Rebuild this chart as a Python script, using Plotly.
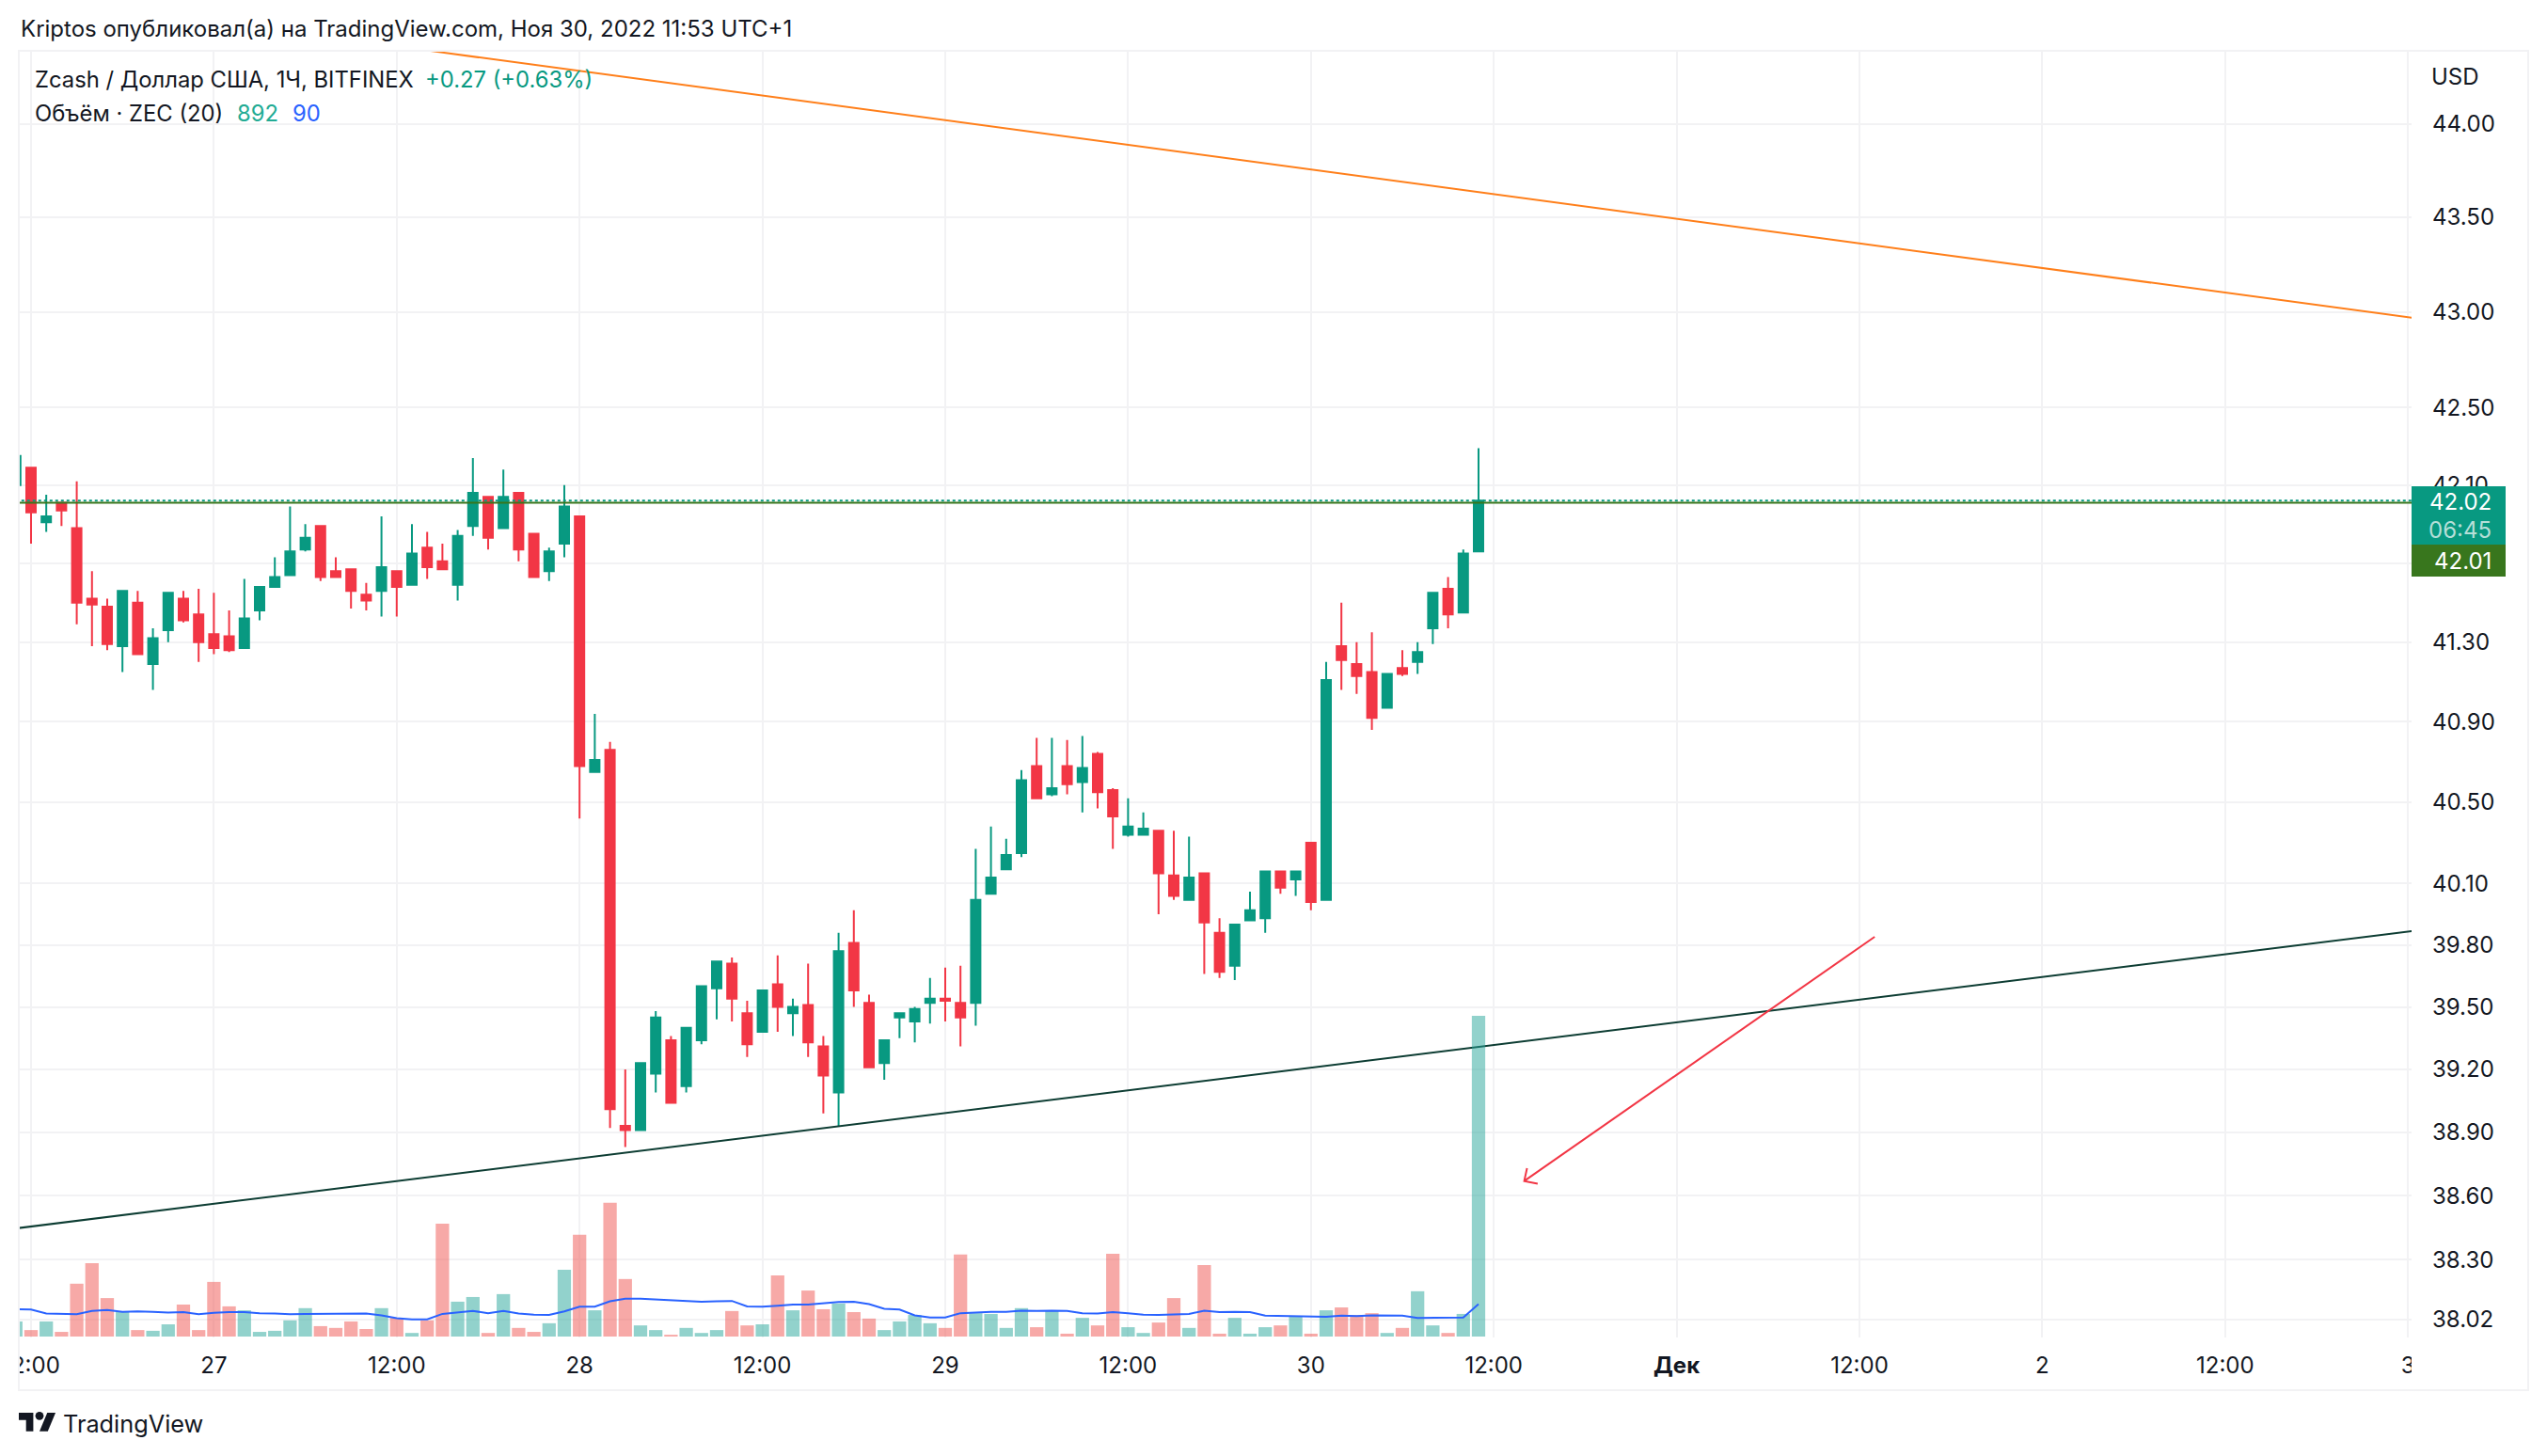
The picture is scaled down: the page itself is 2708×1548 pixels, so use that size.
import math
import pandas as pd
import plotly.graph_objects as go

# hourly bars, ZEC/USD Bitfinex, first bar 26 Nov 11:00
times = pd.date_range("2022-11-26 11:00", periods=97, freq="h")

opens = [42.10, 42.19, 41.91, 42.01, 41.88, 41.52, 41.48, 41.28, 41.50, 41.19,
         41.36, 41.52, 41.44, 41.34, 41.33, 41.27, 41.46, 41.58, 41.64, 41.77,
         41.89, 41.66, 41.67, 41.54, 41.56, 41.66, 41.59, 41.78, 41.71, 41.59,
         41.89, 42.04, 41.88, 42.06, 41.85, 41.66, 41.80, 41.94, 40.65, 40.76,
         38.93, 38.91, 39.18, 39.34, 39.12, 39.34, 39.59, 39.71, 39.47, 39.38,
         39.61, 39.47, 39.51, 39.31, 39.09, 39.81, 39.52, 39.23, 39.45, 39.43,
         39.52, 39.54, 39.52, 39.52, 40.05, 40.17, 40.25, 40.68, 40.54, 40.68,
         40.60, 40.74, 40.56, 40.34, 40.34, 40.36, 40.14, 40.02, 40.15, 39.86,
         39.70, 39.92, 39.93, 40.16, 40.12, 40.30, 40.02, 41.28, 41.19, 41.15,
         40.97, 41.17, 41.20, 41.37, 41.57, 41.45, 41.76]
highs = [42.25, 42.19, 42.05, 42.01, 42.12, 41.66, 41.52, 41.56, 41.56, 41.37,
         41.55, 41.56, 41.57, 41.55, 41.46, 41.62, 41.58, 41.73, 41.99, 41.90,
         41.89, 41.73, 41.67, 41.60, 41.94, 41.66, 41.90, 41.86, 41.80, 41.87,
         42.24, 42.04, 42.18, 42.06, 41.85, 41.78, 42.10, 41.94, 40.94, 40.80,
         39.20, 39.23, 39.48, 39.36, 39.40, 39.60, 39.72, 39.74, 39.53, 39.58,
         39.75, 39.54, 39.71, 39.36, 39.86, 39.97, 39.56, 39.34, 39.47, 39.50,
         39.64, 39.69, 39.70, 40.27, 40.38, 40.32, 40.66, 40.82, 40.82, 40.81,
         40.83, 40.75, 40.57, 40.52, 40.45, 40.36, 40.36, 40.33, 40.15, 39.93,
         39.90, 40.06, 40.16, 40.16, 40.16, 40.30, 41.20, 41.50, 41.30, 41.35,
         41.14, 41.26, 41.30, 41.55, 41.63, 41.77, 42.29]
lows = [42.10, 41.80, 41.86, 41.89, 41.39, 41.28, 41.26, 41.15, 41.24, 41.06,
        41.30, 41.40, 41.20, 41.24, 41.25, 41.27, 41.41, 41.58, 41.64, 41.76,
        41.61, 41.63, 41.47, 41.46, 41.43, 41.43, 41.59, 41.62, 41.67, 41.51,
        41.84, 41.77, 41.88, 41.71, 41.63, 41.61, 41.73, 40.42, 40.65, 38.92,
        38.83, 38.91, 39.09, 39.04, 39.09, 39.32, 39.44, 39.43, 39.26, 39.38,
        39.38, 39.36, 39.26, 38.99, 38.93, 39.50, 39.21, 39.15, 39.35, 39.33,
        39.42, 39.43, 39.31, 39.41, 40.05, 40.17, 40.23, 40.52, 40.53, 40.54,
        40.45, 40.47, 40.27, 40.33, 40.34, 39.95, 40.02, 40.02, 39.66, 39.64,
        39.63, 39.92, 39.86, 40.05, 40.04, 39.97, 40.02, 41.06, 41.04, 40.86,
        40.97, 41.13, 41.14, 41.29, 41.37, 41.45, 41.76]
closes = [42.25, 41.96, 41.94, 41.97, 41.50, 41.49, 41.29, 41.56, 41.24, 41.32,
          41.55, 41.41, 41.30, 41.27, 41.26, 41.42, 41.58, 41.63, 41.76, 41.83,
          41.63, 41.63, 41.56, 41.51, 41.68, 41.58, 41.75, 41.68, 41.67, 41.84,
          42.06, 41.83, 42.04, 41.77, 41.63, 41.76, 41.99, 40.68, 40.71, 39.01,
          38.91, 39.23, 39.45, 39.04, 39.40, 39.60, 39.72, 39.54, 39.32, 39.58,
          39.50, 39.50, 39.33, 39.17, 39.77, 39.58, 39.21, 39.34, 39.47, 39.49,
          39.54, 39.53, 39.45, 40.02, 40.13, 40.24, 40.61, 40.52, 40.57, 40.59,
          40.67, 40.55, 40.43, 40.38, 40.37, 40.15, 40.04, 40.13, 39.91, 39.67,
          39.90, 39.97, 40.16, 40.08, 40.16, 40.01, 41.11, 41.21, 41.13, 40.92,
          41.14, 41.14, 41.25, 41.55, 41.44, 41.75, 42.02]

volumes = [42, 18, 42, 13, 147, 204, 107, 68, 18, 16,
           34, 89, 18, 152, 84, 73, 13, 16, 45, 79,
           29, 24, 42, 21, 79, 52, 10, 45, 314, 97,
           110, 10, 118, 24, 13, 37, 186, 283, 73, 372,
           160, 31, 18, 5, 24, 10, 18, 71, 31, 34,
           170, 73, 128, 76, 92, 68, 50, 18, 42, 60,
           37, 24, 228, 65, 63, 24, 79, 26, 73, 8,
           52, 31, 230, 26, 10, 39, 107, 24, 199, 8,
           52, 8, 26, 31, 55, 8, 73, 81, 60, 65,
           10, 24, 126, 31, 10, 63, 892]
vol_ma = [76, 75, 64, 63, 62, 71, 74, 69, 70, 69,
          67, 68, 62, 66, 68, 68, 65, 64, 62, 63,
          63, 64, 64, 64, 59, 51, 48, 48, 63, 67,
          71, 65, 71, 64, 61, 60, 70, 83, 83, 98,
          105, 105, 103, 102, 99, 97, 98, 99, 84, 83,
          86, 89, 89, 92, 96, 97, 90, 77, 75, 59,
          53, 53, 65, 67, 69, 69, 72, 71, 72, 71,
          65, 64, 68, 65, 61, 60, 62, 63, 72, 68,
          69, 68, 58, 57, 56, 55, 55, 58, 57, 59,
          58, 58, 52, 52, 52, 53, 90]

price_ticks = [44.00, 43.50, 43.00, 42.50, 42.10, 41.70, 41.30, 40.90, 40.50, 40.10,
               39.80, 39.50, 39.20, 38.90, 38.60, 38.30, 38.02]
time_ticks = ["2022-11-26 12:00", "2022-11-27 00:00", "2022-11-27 12:00", "2022-11-28 00:00",
              "2022-11-28 12:00", "2022-11-29 00:00", "2022-11-29 12:00", "2022-11-30 00:00",
              "2022-11-30 12:00", "2022-12-01 00:00", "2022-12-01 12:00", "2022-12-02 00:00",
              "2022-12-02 12:00", "2022-12-03 00:00"]
time_labels = ["12:00", "27", "12:00", "28", "12:00", "29", "12:00", "30",
               "12:00", "<b>Дек</b>", "12:00", "2", "12:00", "3"]

# drawings on the chart
orange_t = ["2022-11-27 14:00", "2022-12-03 03:00"]
orange_p = [44.396, 42.940]
support_t = ["2022-11-26 10:00", "2022-12-03 03:00"]
support_p = [38.437, 39.893]
arrow_t = ["2022-12-01 13:00", "2022-11-30 14:00", "2022-11-30 14:11", "2022-11-30 14:00", "2022-11-30 14:53"]
arrow_p = [39.840, 38.669, 38.730, 38.669, 38.656]
last_price = 42.02
last_line = 42.01

GREEN = "#089981"
RED = "#f23645"
GRID = "#f2f2f4"
TEXT = "#131722"
FONT = "Inter"

# plot box in page pixels
LEFT, RIGHT, TOP, BOTTOM = 20, 2564, 54, 1422


def px(x):
    return (x - LEFT) / (RIGHT - LEFT)


def py(y):
    return (BOTTOM - y) / (BOTTOM - TOP)


bar_colors = ["rgba(38,166,154,0.5)" if c >= o else "rgba(239,83,80,0.5)" for o, c in zip(opens, closes)]

fig = go.Figure()
fig.add_trace(go.Candlestick(
    x=times, open=opens, high=highs, low=lows, close=closes,
    increasing=dict(line=dict(color=GREEN, width=2), fillcolor=GREEN),
    decreasing=dict(line=dict(color=RED, width=2), fillcolor=RED),
    whiskerwidth=0, hoverinfo="skip"))
fig.add_trace(go.Scatter(x=[times[0], "2022-12-03 03:00"], y=[last_price, last_price], mode="lines",
                         line=dict(color=GREEN, width=2, dash="3px,3px"), hoverinfo="skip"))
fig.add_trace(go.Scatter(x=[times[0], "2022-12-03 03:00"], y=[last_line, last_line], mode="lines",
                         line=dict(color="#38761d", width=2), hoverinfo="skip"))
fig.add_trace(go.Scatter(x=orange_t, y=orange_p, mode="lines", line=dict(color="#ff7f1a", width=2), hoverinfo="skip"))
fig.add_trace(go.Scatter(x=support_t, y=support_p, mode="lines", line=dict(color="#0d3d33", width=2), hoverinfo="skip"))
fig.add_trace(go.Scatter(x=arrow_t, y=arrow_p, mode="lines", line=dict(color=RED, width=2), hoverinfo="skip"))
fig.add_trace(go.Bar(x=times, y=volumes, yaxis="y2", marker=dict(color=bar_colors, line_width=0), hoverinfo="skip"))
fig.add_trace(go.Scatter(x=times, y=vol_ma, yaxis="y2", mode="lines", line=dict(color="#2962ff", width=2), hoverinfo="skip"))


def label(x, y, text, color=TEXT, size=24, anchor="left", **kw):
    fig.add_annotation(xref="paper", yref="paper", x=px(x), y=py(y), text=text, showarrow=False,
                       xanchor=anchor, yanchor="middle", font=dict(family=FONT, size=size, color=color), **kw)


label(20, 31, "Kriptos опубликовал(а) на TradingView.com, Ноя 30, 2022 11:53 UTC+1", size=24)
label(35, 85, "Zcash / Доллар США, 1Ч, BITFINEX", size=23.8)
label(450, 85, "+0.27 (+0.63%)", color=GREEN, size=23.8)
label(35, 120, "Объём · ZEC (20)", size=23.8)
label(250, 120, "892", color="#22ab94", size=23.8)
label(309, 120, "90", color="#2962ff", size=23.8)
label(2583, 81, "USD", size=24)
label(2651, 533, "42.02", color="#ffffff", anchor="right")
label(2651, 563, "06:45", color="#b5dfd8", anchor="right")
label(2651, 596, "42.01", color="#ffffff", anchor="right")
label(65, 1513, "TradingView", size=25.3)


def rect(x0, y0, x1, y1, fill, layer="above"):
    return dict(type="rect", xref="paper", yref="paper", x0=px(x0), y0=py(y0), x1=px(x1), y1=py(y1),
                fillcolor=fill, line_width=0, layer=layer)


def path(points):
    return "M " + " L ".join(f"{px(x):.6f},{py(y):.6f}" for x, y in points) + " Z"


def logo(ux, uy):
    return (20 + ux * 1.1, 1502 + (uy - 4) * 1.1)


shapes = [
    rect(0, TOP, LEFT, 1548, "#ffffff"),
    rect(RIGHT, BOTTOM, 2708, 1548, "#ffffff"),
    # frame around chart and axes
    dict(type="rect", xref="paper", yref="paper", x0=0, y0=py(1478), x1=px(2688), y1=1,
         line=dict(color=GRID, width=2), fillcolor="rgba(0,0,0,0)", layer="above"),
    rect(2564, 517, 2664, 579, GREEN),
    rect(2564, 579, 2664, 613, "#38761d"),
    dict(type="path", xref="paper", yref="paper", fillcolor=TEXT, line_width=0, layer="above",
         path=path([logo(14, 22), logo(7, 22), logo(7, 11), logo(0, 11), logo(0, 4), logo(14, 4)])),
    dict(type="path", xref="paper", yref="paper", fillcolor=TEXT, line_width=0, layer="above",
         path=path([logo(28, 22), logo(20, 22), logo(27.5, 4), logo(35.5, 4)])),
    dict(type="circle", xref="paper", yref="paper", fillcolor=TEXT, line_width=0, layer="above",
         x0=px(logo(16, 4)[0]), x1=px(logo(24, 4)[0]), y0=py(logo(16, 11)[1]), y1=py(logo(16, 3)[1])),
]

fig.update_layout(
    width=2708, height=1548, margin=dict(l=LEFT, r=2708 - RIGHT, t=TOP, b=1548 - BOTTOM),
    paper_bgcolor="#ffffff", plot_bgcolor="#ffffff", showlegend=False, shapes=shapes,
    bargap=0.12, boxgap=0.118,
    font=dict(family=FONT, size=24, color=TEXT),
    xaxis=dict(type="date", range=["2022-11-26 11:11:53", "2022-12-03 00:14:06"], rangeslider=dict(visible=False),
               tickmode="array", tickvals=time_ticks, ticktext=time_labels, tickangle=0, automargin=False,
               showgrid=True, gridcolor=GRID, gridwidth=2, zeroline=False, showline=False,
               ticks="", ticklabelstandoff=13, ticklabeloverflow="allow"),
    yaxis=dict(type="log", range=[math.log10(37.937), math.log10(44.394)], side="right", automargin=False,
               tickmode="array", tickvals=price_ticks, ticktext=[f"{v:.2f}" for v in price_ticks],
               showgrid=True, gridcolor=GRID, gridwidth=2, zeroline=False, showline=False,
               ticks="", ticklabelstandoff=21),
    yaxis2=dict(overlaying="y", range=[-2.6, 3576], visible=False, showgrid=False, zeroline=False, automargin=False),
)

fig.write_html("out.html", config=dict(displayModeBar=False), post_script="document.body.style.margin='0';")
